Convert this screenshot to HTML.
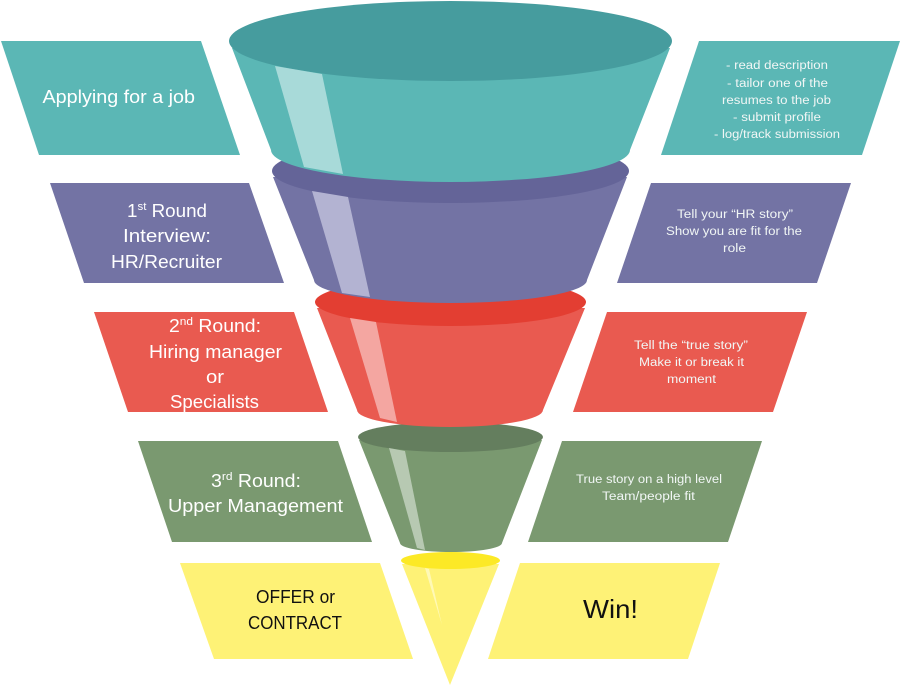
<!DOCTYPE html>
<html lang="en">
<head>
<meta charset="utf-8">
<title>Job application funnel</title>
<style>
html,body{margin:0;padding:0;background:#fff;width:901px;height:686px;overflow:hidden}
svg{display:block;filter:blur(.3px)}
text{font-family:"Liberation Sans",sans-serif;fill:#fff}
.b{font-size:18px}
.s{font-size:11.5px;fill:#f1f6f5}
.k{fill:#111}
</style>
</head>
<body>
<svg width="901" height="686" viewBox="0 0 901 686" xmlns="http://www.w3.org/2000/svg">
  <!-- left parallelograms -->
  <polygon points="1,41 201,41 240,155 39,155" fill="#5bb7b5"/>
  <polygon points="50,183 249,183 284,283 84,283" fill="#7373a4"/>
  <polygon points="94,312 294,312 328,412 128,412" fill="#e95a50"/>
  <polygon points="138,441 338,441 372,542 172,542" fill="#7a9970"/>
  <polygon points="180,563 380,563 413,659 214,659" fill="#fef276"/>
  <!-- right parallelograms -->
  <polygon points="699,41 900,41 862,155 661,155" fill="#5bb7b5"/>
  <polygon points="651,183 851,183 817,283 617,283" fill="#7373a4"/>
  <polygon points="607,312 807,312 773,412 573,412" fill="#e95a50"/>
  <polygon points="562,441 762,441 728,542 528,542" fill="#7a9970"/>
  <polygon points="520,563 720,563 688,659 488,659" fill="#fef276"/>

  <!-- yellow -->
  <path d="M402,564 L450,685 L499,564 Z" fill="#fef276"/>
  <ellipse cx="450.5" cy="560.5" rx="49.5" ry="8.5" fill="#fce926"/>
  <polygon points="425,568 429,569 442,625" fill="#fff9b6"/>
  <!-- green -->
  <path d="M359,440 L400,543 A51,9 0 0 0 502,543 L542,440 Z" fill="#7a9970"/>
  <ellipse cx="450.5" cy="437" rx="92.5" ry="15" fill="#647e5e"/>
  <polygon points="389,448 405,451 425,550 417,548" fill="#b7c9b2"/>
  <!-- red -->
  <path d="M317,308 L357,410 A93,17 0 0 0 543,410 L585,308 Z" fill="#e95a50"/>
  <ellipse cx="450.5" cy="302" rx="135.5" ry="24" fill="#e33e32"/>
  <polygon points="350,318 376,322 397,422 380,418" fill="#f4a6a1"/>
  <!-- purple -->
  <path d="M273,177 L314,280 A136.5,23 0 0 0 587,280 L627,177 Z" fill="#7373a4"/>
  <ellipse cx="450.5" cy="171" rx="178.5" ry="32" fill="#646498"/>
  <polygon points="312,191 348,197 370,297 342,293" fill="#b3b3d2"/>
  <!-- teal -->
  <path d="M232,48 L271,150 A179.5,32 0 0 0 630,150 L670,48 Z" fill="#5bb7b5"/>
  <ellipse cx="450.5" cy="41" rx="221.5" ry="40" fill="#469c9e"/>
  <polygon points="275,66 322,74 343,174 304,167" fill="#a8dad9"/>

  <!-- left labels -->
  <text class="b" x="42.5" y="103" textLength="152.5" lengthAdjust="spacingAndGlyphs">Applying for a job</text>

  <text class="b" x="127" y="217" textLength="80" lengthAdjust="spacingAndGlyphs">1<tspan font-size="11" dy="-7">st</tspan><tspan dy="7"> Round</tspan></text>
  <text class="b" x="123" y="242" textLength="88" lengthAdjust="spacingAndGlyphs">Interview:</text>
  <text class="b" x="111" y="268" textLength="111" lengthAdjust="spacingAndGlyphs">HR/Recruiter</text>

  <text class="b" x="169" y="332" textLength="92" lengthAdjust="spacingAndGlyphs">2<tspan font-size="11" dy="-7">nd</tspan><tspan dy="7"> Round:</tspan></text>
  <text class="b" x="149" y="358" textLength="133" lengthAdjust="spacingAndGlyphs">Hiring manager</text>
  <text class="b" x="206" y="383" textLength="18" lengthAdjust="spacingAndGlyphs">or</text>
  <text class="b" x="170" y="408" textLength="89" lengthAdjust="spacingAndGlyphs">Specialists</text>

  <text class="b" x="211" y="487" textLength="90" lengthAdjust="spacingAndGlyphs">3<tspan font-size="11" dy="-7">rd</tspan><tspan dy="7"> Round:</tspan></text>
  <text class="b" x="168" y="512" textLength="175" lengthAdjust="spacingAndGlyphs">Upper Management</text>

  <text class="b k" x="256" y="603" textLength="79" lengthAdjust="spacingAndGlyphs">OFFER or</text>
  <text class="b k" x="248" y="629" textLength="94" lengthAdjust="spacingAndGlyphs">CONTRACT</text>

  <!-- right labels -->
  <text class="s" x="726" y="69" textLength="102" lengthAdjust="spacingAndGlyphs">- read description</text>
  <text class="s" x="727" y="87" textLength="101" lengthAdjust="spacingAndGlyphs">- tailor one of the</text>
  <text class="s" x="722" y="104" textLength="109" lengthAdjust="spacingAndGlyphs">resumes to the job</text>
  <text class="s" x="733" y="121" textLength="88" lengthAdjust="spacingAndGlyphs">- submit profile</text>
  <text class="s" x="714" y="138" textLength="126" lengthAdjust="spacingAndGlyphs">- log/track submission</text>

  <text class="s" x="677" y="218" textLength="116" lengthAdjust="spacingAndGlyphs">Tell your “HR story”</text>
  <text class="s" x="666" y="235" textLength="136" lengthAdjust="spacingAndGlyphs">Show you are fit for the</text>
  <text class="s" x="723" y="252" textLength="23" lengthAdjust="spacingAndGlyphs">role</text>

  <text class="s" x="634" y="349" textLength="114" lengthAdjust="spacingAndGlyphs">Tell the “true story”</text>
  <text class="s" x="639" y="366" textLength="105" lengthAdjust="spacingAndGlyphs">Make it or break it</text>
  <text class="s" x="667" y="383" textLength="49" lengthAdjust="spacingAndGlyphs">moment</text>

  <text class="s" x="576" y="483" textLength="146" lengthAdjust="spacingAndGlyphs">True story on a high level</text>
  <text class="s" x="602" y="500" textLength="93" lengthAdjust="spacingAndGlyphs">Team/people fit</text>

  <text class="k" x="583" y="618" font-size="26" textLength="55" lengthAdjust="spacingAndGlyphs">Win!</text>
</svg>
</body>
</html>
